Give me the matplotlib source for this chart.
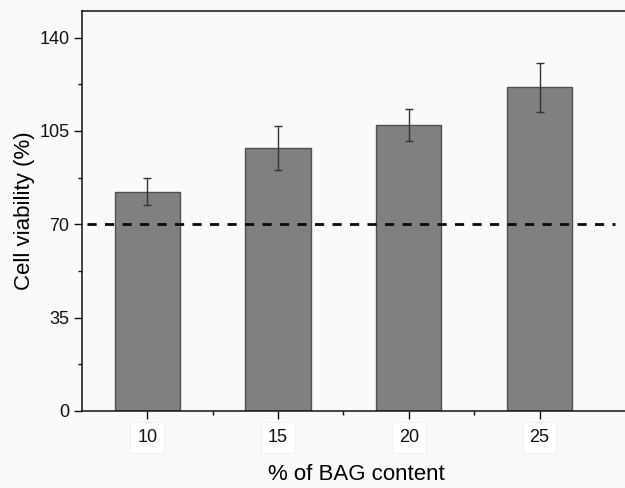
import matplotlib
matplotlib.use("Agg")
import matplotlib.pyplot as plt
from matplotlib.ticker import FixedLocator

plt.rcParams['font.family'] = ['Liberation Sans', 'DejaVu Sans']

bag_content = [10, 15, 20, 25]
viability = [82.3, 98.5, 107.3, 121.4]
errors = [5.1, 8.2, 6.0, 9.1]
threshold = 70
tick_labels = ['10', '15', '20', '25']
y_ticks = [0, 35, 70, 105, 140]

fig = plt.figure(figsize=(6.25, 4.88), dpi=100, facecolor='#fafafa')
ax = fig.add_axes([0.1312, 0.1578, 0.8784, 0.8197])
ax.set_facecolor('#fafafa')

ax.bar(bag_content, viability, width=2.5, color='#808080', edgecolor='#505050',
       linewidth=1.0, zorder=2)
ax.errorbar(bag_content, viability, yerr=errors, fmt='none', ecolor='#333333',
            elinewidth=1.0, capsize=3, capthick=1.0, zorder=3)
ax.plot([7.69, 27.87], [threshold, threshold], color='#0a0a0a', lw=2.0,
        linestyle=(0, (3.3, 3.0)), zorder=4)

ax.set_xlim(7.5, 28.5)
ax.set_ylim(0, 150)
ax.set_xticks(bag_content)
ax.set_xticklabels(tick_labels)
ax.xaxis.set_minor_locator(FixedLocator([12.5, 17.5, 22.5]))
ax.set_yticks(y_ticks)
ax.yaxis.set_minor_locator(FixedLocator([17.5, 52.5, 87.5, 122.5]))

for s in ['left', 'bottom', 'top']:
    ax.spines[s].set_linewidth(1.1)
    ax.spines[s].set_color('#111111')
ax.spines['right'].set_visible(False)

ax.tick_params(axis='both', which='major', direction='out', length=6, width=1.0,
               labelsize=13, colors='#111111')
ax.tick_params(axis='both', which='minor', direction='out', length=3, width=1.0,
               colors='#111111')
ax.tick_params(axis='x', which='major', pad=7)
ax.tick_params(axis='y', which='major', pad=3)

for lbl in ax.get_xticklabels():
    lbl.set_bbox(dict(facecolor='white', edgecolor='#f2f2f2', pad=5, linewidth=0.8))

ax.set_ylabel('Cell viability (%)', fontsize=16, labelpad=3)
ax.set_xlabel('% of BAG content', fontsize=16, labelpad=13)

fig.savefig('out.png', dpi=100, facecolor=fig.get_facecolor())
